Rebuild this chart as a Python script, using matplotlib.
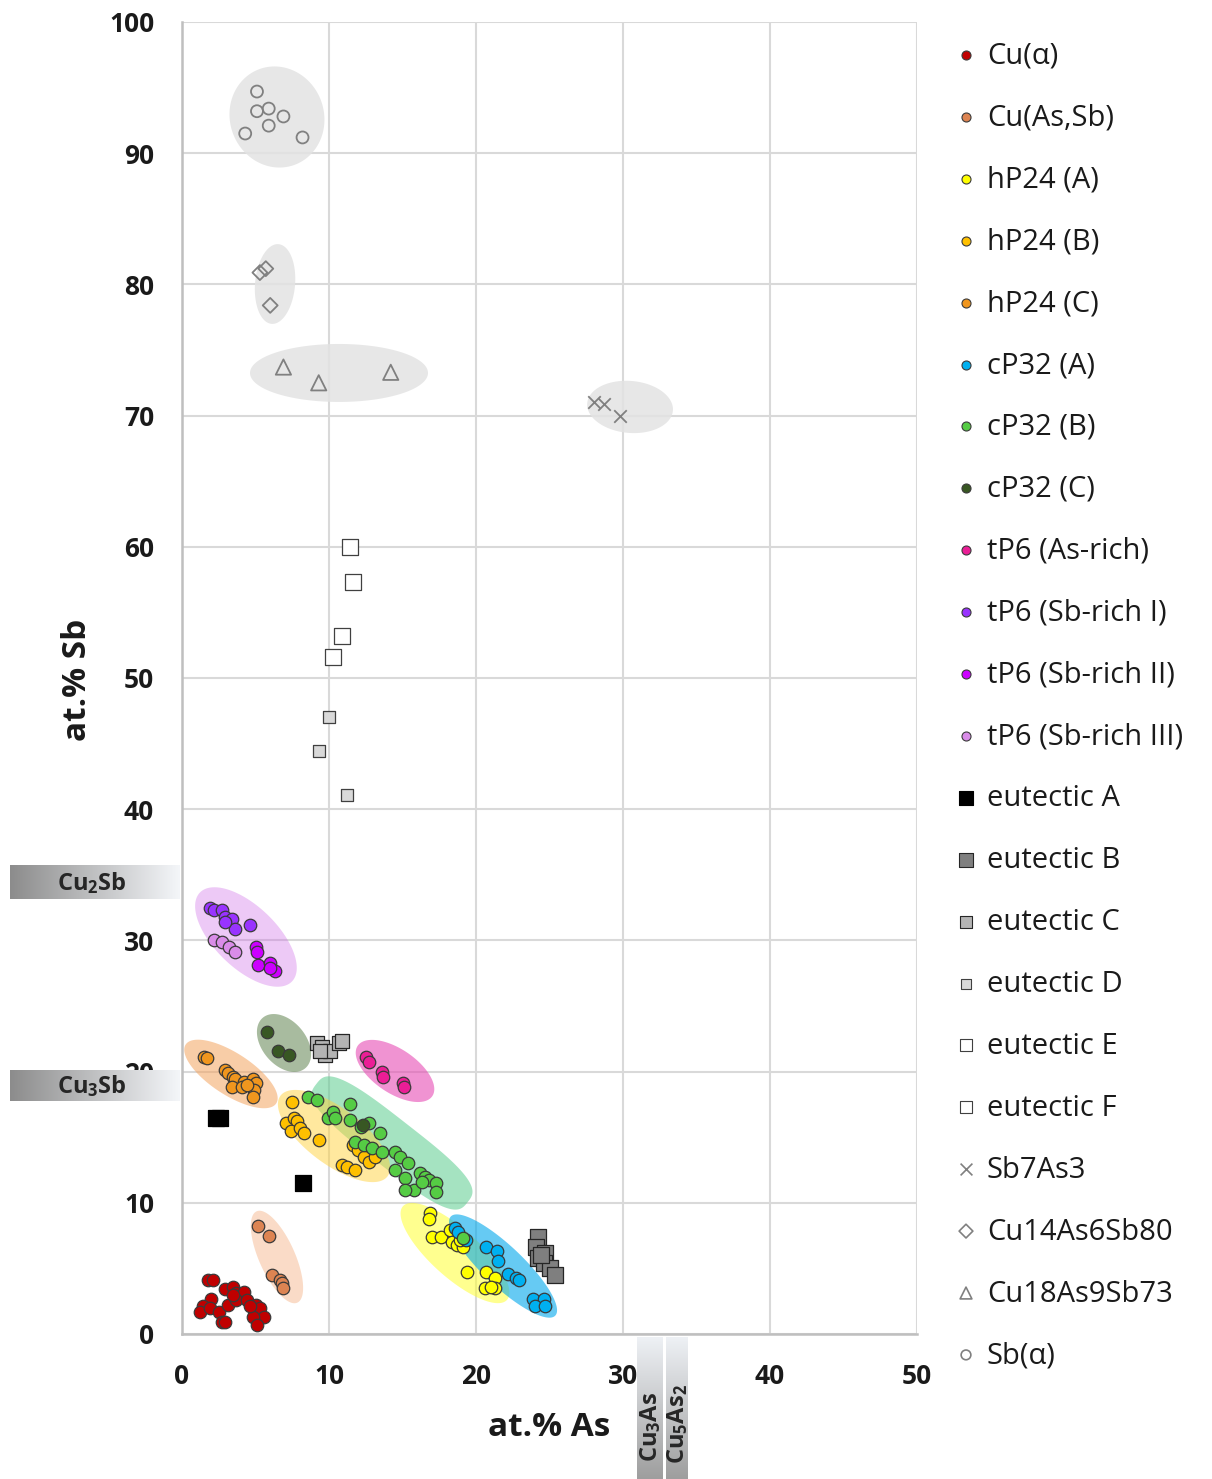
import numpy as np
import matplotlib
matplotlib.use("Agg")
import matplotlib.pyplot as plt
from matplotlib.patches import Polygon

plt.rcParams['font.family'] = ['Open Sans', 'DejaVu Sans']
plt.rcParams['mathtext.fontset'] = 'custom'
plt.rcParams['mathtext.rm'] = 'Open Sans'
plt.rcParams['mathtext.bf'] = 'Open Sans:bold'
plt.rcParams['mathtext.it'] = 'Open Sans:italic'

# ---------------- compositions (at.% As, at.% Sb) ----------------
cu_alpha_as = [1.8, 2.1, 2.9, 3.5, 3.7, 4.2, 2.0, 1.4, 1.2, 1.9, 2.5, 3.1, 3.7, 4.4, 5.0, 4.9, 5.3, 5.6, 4.8, 5.1, 2.7, 2.9, 3.5, 4.6]
cu_alpha_sb = [4.1, 4.1, 3.4, 3.6, 3.1, 3.2, 2.7, 2.1, 1.7, 2.0, 1.7, 2.2, 2.6, 2.6, 2.2, 1.8, 2.0, 1.3, 1.3, 0.7, 0.9, 0.9, 3.0, 2.1]

cu_assb_as = [5.2, 5.9, 6.1, 6.7, 6.8, 6.9]
cu_assb_sb = [8.2, 7.5, 4.5, 4.1, 3.9, 3.5]

hp24a_as = [16.9, 16.8, 17.0, 17.6, 18.2, 18.4, 18.7, 19.1, 18.9, 19.4, 20.7, 21.3, 20.6, 21.3, 21.0]
hp24a_sb = [9.2, 8.8, 7.4, 7.4, 7.9, 7.0, 6.8, 6.6, 7.2, 4.7, 4.7, 4.3, 3.5, 3.5, 3.6]

hp24b_as = [7.5, 7.1, 7.6, 7.8, 7.4, 8.0, 8.3, 9.3, 10.9, 11.2, 11.8, 11.6, 12.0, 12.4, 12.7, 13.1]
hp24b_sb = [17.7, 16.1, 16.5, 16.2, 15.5, 15.7, 15.3, 14.8, 12.9, 12.7, 12.5, 14.4, 14.0, 13.5, 13.1, 13.5]

hp24c_as = [1.5, 1.7, 2.9, 3.1, 3.5, 3.6, 4.2, 4.8, 5.0, 3.4, 4.1, 4.9, 4.8, 4.4]
hp24c_sb = [21.1, 21.0, 20.1, 19.9, 19.6, 19.4, 19.2, 19.4, 19.1, 18.8, 18.8, 18.6, 18.1, 19.0]

cp32a_as = [18.6, 18.8, 19.3, 20.7, 21.4, 21.5, 22.2, 22.7, 22.9, 23.9, 24.6, 24.0, 24.7]
cp32a_sb = [8.1, 7.8, 7.2, 6.6, 6.3, 5.6, 4.6, 4.3, 4.1, 2.7, 2.7, 2.1, 2.1]

cp32b_as = [8.6, 9.2, 9.9, 10.3, 10.4, 11.4, 11.4, 12.2, 12.7, 13.5, 11.8, 12.4, 12.9, 13.6, 14.5, 14.8,
            15.4, 14.5, 15.2, 15.8, 15.2, 16.2, 16.5, 16.8, 17.3, 17.3, 16.3, 19.1]
cp32b_sb = [18.1, 17.8, 16.5, 16.9, 16.5, 17.5, 16.3, 15.8, 16.1, 15.3, 14.6, 14.4, 14.2, 13.9, 13.9, 13.5,
            13.0, 12.5, 11.9, 11.0, 11.0, 12.3, 12.0, 11.7, 11.5, 10.8, 11.6, 7.3]

cp32c_as = [5.8, 6.5, 7.3, 12.3]
cp32c_sb = [23.0, 21.6, 21.3, 15.9]

tp6_as_rich_as = [12.5, 12.7, 13.6, 13.7, 15.0, 15.1]
tp6_as_rich_sb = [21.1, 20.7, 20.0, 19.6, 19.1, 18.8]

tp6_sb1_as = [1.9, 2.2, 2.7, 2.9, 3.4, 3.6, 2.9, 4.6]
tp6_sb1_sb = [32.5, 32.3, 32.3, 31.8, 31.6, 30.9, 31.4, 31.2]

tp6_sb2_as = [5.0, 5.1, 5.2, 6.0, 6.3, 6.0]
tp6_sb2_sb = [29.5, 29.1, 28.1, 28.3, 27.7, 27.9]

tp6_sb3_as = [2.2, 2.7, 3.2, 3.6]
tp6_sb3_sb = [30.0, 29.9, 29.5, 29.1]

eut_a_as = [2.3, 2.6, 8.2]
eut_a_sb = [16.5, 16.5, 11.5]

eut_b_as = [24.2, 24.1, 24.7, 24.2, 24.6, 25.0, 25.4, 24.4]
eut_b_sb = [7.4, 6.6, 6.2, 5.8, 5.4, 5.0, 4.5, 6.0]

eut_c_as = [9.2, 9.5, 9.7, 10.1, 10.7, 10.9, 9.4]
eut_c_sb = [22.2, 21.9, 21.3, 21.6, 22.2, 22.3, 21.6]

eut_d_as = [10.0, 9.3, 11.2]
eut_d_sb = [47.0, 44.4, 41.1]

eut_e_as = [10.9, 10.3]
eut_e_sb = [53.2, 51.6]

eut_f_as = [11.4, 11.6]
eut_f_sb = [60.0, 57.3]

sb7as3_as = [28.0, 28.7, 29.8]
sb7as3_sb = [71.0, 70.9, 70.0]

cu14_as = [5.3, 5.7, 6.0]
cu14_sb = [80.9, 81.2, 78.4]

cu18_as = [6.9, 9.3, 14.2]
cu18_sb = [73.7, 72.5, 73.3]

sb_alpha_as = [5.1, 5.1, 5.9, 6.9, 5.9, 4.3, 8.2]
sb_alpha_sb = [94.7, 93.2, 93.4, 92.8, 92.1, 91.5, 91.2]

x_ticks = [0, 10, 20, 30, 40, 50]
y_ticks = [0, 10, 20, 30, 40, 50, 60, 70, 80, 90, 100]

# ---------------- series styling ----------------
EDGE = '#3a3a3a'
OPEN = '#808080'
series = [
    # label, x, y, marker, face, edge, size(pt), legend size(pt)
    ('Cu(α)', cu_alpha_as, cu_alpha_sb, 'o', '#c00000', EDGE, 9.0, 6.5),
    ('Cu(As,Sb)', cu_assb_as, cu_assb_sb, 'o', '#dd8452', EDGE, 9.0, 6.5),
    ('hP24 (A)', hp24a_as, hp24a_sb, 'o', '#ffff00', EDGE, 9.0, 6.5),
    ('hP24 (B)', hp24b_as, hp24b_sb, 'o', '#ffc000', EDGE, 9.0, 6.5),
    ('hP24 (C)', hp24c_as, hp24c_sb, 'o', '#f0961e', EDGE, 9.0, 6.5),
    ('cP32 (A)', cp32a_as, cp32a_sb, 'o', '#00b0f0', EDGE, 9.0, 6.5),
    ('cP32 (B)', cp32b_as, cp32b_sb, 'o', '#55cc44', EDGE, 9.0, 6.5),
    ('cP32 (C)', cp32c_as, cp32c_sb, 'o', '#385723', EDGE, 9.0, 6.5),
    ('tP6 (As-rich)', tp6_as_rich_as, tp6_as_rich_sb, 'o', '#ea1e96', EDGE, 9.0, 6.5),
    ('tP6 (Sb-rich I)', tp6_sb1_as, tp6_sb1_sb, 'o', '#9933ff', EDGE, 9.0, 6.5),
    ('tP6 (Sb-rich II)', tp6_sb2_as, tp6_sb2_sb, 'o', '#cc00ff', EDGE, 9.0, 6.5),
    ('tP6 (Sb-rich III)', tp6_sb3_as, tp6_sb3_sb, 'o', '#d98ce8', EDGE, 9.0, 6.5),
    ('eutectic A', eut_a_as, eut_a_sb, 's', '#000000', '#000000', 11.5, 9.5),
    ('eutectic B', eut_b_as, eut_b_sb, 's', '#7f7f7f', '#262626', 11.5, 9.5),
    ('eutectic C', eut_c_as, eut_c_sb, 's', '#b4b4b4', '#262626', 10.5, 9.0),
    ('eutectic D', eut_d_as, eut_d_sb, 's', '#d9d9d9', '#404040', 8.0, 7.0),
    ('eutectic E', eut_e_as, eut_e_sb, 's', '#ffffff', '#404040', 11.0, 9.0),
    ('eutectic F', eut_f_as, eut_f_sb, 's', '#ffffff', '#404040', 11.0, 9.0),
    ('Sb7As3', sb7as3_as, sb7as3_sb, 'x', OPEN, OPEN, 9.0, 8.5),
    ('Cu14As6Sb80', cu14_as, cu14_sb, 'D', 'none', OPEN, 7.6, 7.0),
    ('Cu18As9Sb73', cu18_as, cu18_sb, '^', 'none', OPEN, 11.0, 8.5),
    ('Sb(α)', sb_alpha_as, sb_alpha_sb, 'o', 'none', OPEN, 8.6, 7.0),
]

# shaded phase fields: centre (data), half-length/half-width (px), angle (deg), colour, alpha, shape power
regions = [
    ((6.46, 92.76), 51, 47, -70, '#e3e3e3', 0.85, 2.0),
    ((6.33, 80.03), 40, 20, 85, '#e3e3e3', 0.85, 2.0),
    ((10.68, 73.25), 89, 29, 0, '#e3e3e3', 0.85, 2.0),
    ((30.48, 70.66), 43, 26, -5, '#e3e3e3', 0.85, 2.0),
    ((4.35, 30.26), 64, 31, -44, '#cc66e6', 0.35, 2.0),
    ((6.94, 22.18), 33, 22, -50, '#6f8f5f', 0.6, 2.0),
    ((3.33, 19.82), 54, 21, -33, '#f4a460', 0.55, 2.0),
    ((14.49, 20.05), 45, 22, -34, '#e64cb4', 0.6, 2.0),
    ((14.29, 14.56), 96, 24, -38, '#5ccc8f', 0.55, 3.2),
    ((10.34, 15.09), 67, 28, -37, '#ffd23f', 0.5, 2.0),
    ((6.46, 5.87), 50, 18, -66, '#f4b183', 0.45, 2.0),
    ((18.57, 6.17), 70, 24, -42, '#ffff33', 0.55, 2.0),
    ((21.84, 5.18), 72, 20, -43.5, '#00a8ec', 0.6, 2.0),
]

W, H = 1212, 1479
fig = plt.figure(figsize=(W / 100, H / 100), dpi=100)
ax = fig.add_axes([182 / W, (H - 1334) / H, 735 / W, 1312 / H])
ax.set_xlim(0, 50)
ax.set_ylim(0, 100)


def add_region(ax, centre, half_long, half_wide, angle, color, alpha, power):
    sx = ax.bbox.width / 50.0
    sy = ax.bbox.height / 100.0
    t = np.linspace(0, 2 * np.pi, 240)
    c, s = np.cos(t), np.sin(t)
    e = 2.0 / power
    u = half_long * np.sign(c) * np.abs(c) ** e
    v = half_wide * np.sign(s) * np.abs(s) ** e
    th = np.deg2rad(angle)
    dx = u * np.cos(th) - v * np.sin(th)
    dy = u * np.sin(th) + v * np.cos(th)
    pts = np.column_stack([centre[0] + dx / sx, centre[1] + dy / sy])
    ax.add_patch(Polygon(pts, closed=True, facecolor=color, alpha=alpha,
                         edgecolor='none', zorder=1))


for r in regions:
    add_region(ax, *r)

for label, xs, ys, m, fc, ec, ms, _ in series:
    lw = 1.3 if fc == 'none' or m == 'x' else 0.9
    if m == 'x':
        ax.scatter(xs, ys, s=ms ** 2, marker='x', c=fc, linewidths=1.3, zorder=3)
    else:
        ax.scatter(xs, ys, s=ms ** 2, marker=m, facecolors=fc, edgecolors=ec,
                   linewidths=lw, zorder=3)

ax.set_xticks(x_ticks)
ax.set_yticks(y_ticks)
ax.grid(True, color='#d9d9d9', linewidth=1.5, zorder=0)
ax.set_axisbelow(True)
for side in ('top', 'right'):
    ax.spines[side].set_visible(False)
for side in ('left', 'bottom'):
    ax.spines[side].set_color('#bfbfbf')
    ax.spines[side].set_linewidth(1.8)
ax.tick_params(length=0, labelsize=19, colors='#1a1a1a')
ax.tick_params(axis='y', pad=20)
ax.tick_params(axis='x', pad=21)
for t in ax.get_xticklabels() + ax.get_yticklabels():
    t.set_fontweight('bold')

ax.set_xlabel('at.% As', fontsize=24, fontweight='bold', va='center', color='#1a1a1a')
ax.xaxis.set_label_coords(0.4993, -0.0716)
ax.set_ylabel('at.% Sb', fontsize=24, fontweight='bold', va='center', color='#1a1a1a')
ax.yaxis.set_label_coords(-0.1415, 0.4985)

# overlay in pixel units for legend and compound markers
ov = fig.add_axes([0, 0, 1, 1])
ov.set_facecolor('none')
ov.axis('off')

# compound bands on the Sb axis
hgrad = np.linspace(0, 1, 256)
c0 = np.array([0x8c, 0x8c, 0x8c]) / 255
c1 = np.array([0xf4, 0xf6, 0xf9]) / 255
himg = (c0[None, None, :] * (1 - hgrad)[None, :, None] + c1[None, None, :] * hgrad[None, :, None])
for (top, bot, txt) in [(865, 899, r'$\mathbf{Cu_2Sb}$'), (1070, 1101, r'$\mathbf{Cu_3Sb}$')]:
    ov.imshow(himg, extent=(10, 180, bot, top), aspect='auto', zorder=1)
    ov.text(92, (top + bot) / 2 + 1, txt, ha='center', va='center', fontsize=17,
            color='#262626', zorder=2)

# compound bands on the As axis
vgrad = np.linspace(0, 1, 256)
d0 = np.array([0xee, 0xf1, 0xf5]) / 255
d1 = np.array([0x9e, 0x9e, 0x9e]) / 255
vimg = (d0[None, None, :] * (1 - vgrad)[:, None, None] + d1[None, None, :] * vgrad[:, None, None])
for (left, right, txt, yc) in [(637, 663, r'$\mathbf{Cu_3As}$', 1427), (666, 688, r'$\mathbf{Cu_5As_2}$', 1424)]:
    ov.imshow(vimg, extent=(left, right, H, 1337), aspect='auto', zorder=1)
    ov.text((left + right) / 2 + 1, yc, txt, ha='center', va='center', rotation=90,
            fontsize=17, color='#262626', zorder=2)

# legend
y0, dy = 55, 61.9
for i, (label, xs, ys, m, fc, ec, ms, lms) in enumerate(series):
    yy = y0 + i * dy
    if m == 'x':
        ov.scatter([966], [yy], s=lms ** 2, marker='x', c=fc, linewidths=1.2, zorder=3)
    else:
        lw = 1.2 if fc == 'none' else 0.8
        ov.scatter([966], [yy], s=lms ** 2, marker=m, facecolors=fc, edgecolors=ec,
                   linewidths=lw, zorder=3)
    ov.text(987, yy + 1, label, ha='left', va='center', fontsize=21, color='#1a1a1a', zorder=3)

ov.set_xlim(0, W)
ov.set_ylim(H, 0)

fig.savefig('out.png', dpi=100)
